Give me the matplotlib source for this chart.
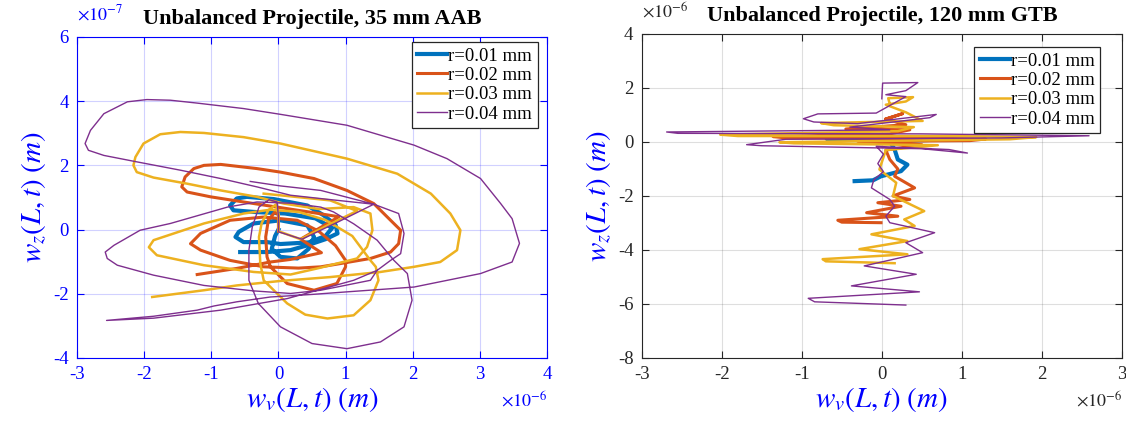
import numpy as np
import matplotlib
matplotlib.use("Agg")
import matplotlib.pyplot as plt
from matplotlib.ticker import FuncFormatter

plt.rcParams['font.family'] = ['Liberation Serif', 'DejaVu Serif']
plt.rcParams['mathtext.fontset'] = 'stix'
plt.rcParams['axes.unicode_minus'] = False

labels = ['r=0.01 mm', 'r=0.02 mm', 'r=0.03 mm', 'r=0.04 mm']

# 35 mm AAB: x in 1e-6 m, y in 1e-7 m
aab_x_01 = [-0.57, -0.17, 0.18, 0.43, 0.70, 0.88, 0.85, 0.67, 0.43, -0.07, -0.47, -0.62, -0.72, -0.67, -0.37,
            0.10, 0.55, 0.80, 0.70, 0.45, 0.03, -0.17, -0.52, -0.64, -0.59, -0.37, 0.03, 0.43, 0.53, 0.45,
            0.28, 0.03, -0.10, -0.05, 0.00]
aab_y_01 = [-0.70, -0.70, -0.64, -0.49, -0.30, -0.12, 0.15, 0.45, 0.75, 0.95, 1.02, 0.97, 0.75, 0.60, 0.55,
            0.50, 0.35, 0.05, -0.20, -0.40, -0.45, -0.39, -0.39, -0.23, -0.07, 0.19, 0.29, 0.13, -0.23, -0.60,
            -0.90, -0.85, -0.60, -0.20, 0.00]

aab_x_02 = [0.00, 0.00, -0.05, -0.15, -0.19, -0.17, -0.12, 0.13, 0.53, 0.87, 1.00, 1.00, 0.85, 0.60, 0.28,
            -0.22, -0.72, -1.16, -1.31, -1.16, -0.72, -0.22, 0.30, 0.63, 0.92, 1.37, 1.67, 1.79, 1.82, 1.67,
            1.42, 1.02, 0.53, 0.03, -0.32, -0.86, -1.11, -1.26, -1.39, -1.44, -1.36, -1.01, -0.52, -0.02, 0.45,
            0.90, 0.33, 0.64, 0.18, -0.12, -0.62, -1.21]
aab_y_02 = [-0.05, 0.45, 0.55, 0.30, -0.23, -0.85, -1.16, -1.68, -1.89, -1.68, -1.16, -0.96, -0.50, -0.05, 0.29,
            0.39, 0.29, -0.12, -0.44, -0.64, -0.96, -1.16, -1.20, -1.16, -1.06, -0.90, -0.70, -0.44, -0.02, 0.29,
            0.81, 1.22, 1.59, 1.79, 1.90, 2.03, 2.00, 1.90, 1.64, 1.33, 1.17, 1.02, 0.86, 0.70, 0.55,
            0.40, -0.30, -0.72, -0.93, -1.01, -1.21, -1.40]

aab_x_03 = [-1.88, -1.11, -0.62, 0.03, 0.77, 1.52, 2.02, 2.41, 2.66, 2.71, 2.56, 2.27, 1.77, 1.02, 0.03,
            -0.52, -1.11, -1.46, -1.76, -2.01, -2.13, -2.16, -2.11, -1.86, -1.36, -0.86, -0.32, 0.08, 0.60, 1.12,
            1.37, 1.40, 1.32, 1.17, 0.60, 0.18, -0.37, -1.11, -1.81, -1.93, -1.86, -1.11, -0.52, -0.12, 0.30,
            0.70, 1.10, 1.37, 1.45, 1.49, 1.37, 1.12, 0.73, 0.40, 0.13, -0.22, -0.27, -0.29, -0.25, -0.15,
            -0.04, 0.00, 0.00, 0.33, 0.75, 1.17, 0.77, -0.22]
aab_y_03 = [-2.10, -1.89, -1.74, -1.60, -1.48, -1.32, -1.16, -1.01, -0.64, -0.02, 0.50, 1.12, 1.74, 2.21, 2.68,
            2.88, 3.01, 3.04, 2.97, 2.68, 2.26, 2.00, 1.79, 1.62, 1.43, 1.22, 1.02, 0.81, 0.64, 0.70,
            0.50, -0.02, -0.54, -0.90, -1.20, -1.40, -1.32, -1.11, -0.80, -0.55, -0.33, 0.19, 0.50, 0.62, 0.55,
            0.30, -0.20, -0.96, -1.16, -1.58, -2.20, -2.67, -2.77, -2.65, -2.30, -1.58, -1.06, -0.23, 0.20, 0.60,
            0.78, 0.50, -0.05, -0.30, 0.15, 0.58, 0.91, 1.12]

aab_x_04 = [1.47, 1.12, 0.13, -0.86, -1.86, -2.56, -1.86, -1.21, -0.96, -0.62, -0.12, 0.50, 1.02, 2.02, 3.01,
            3.48, 3.59, 3.48, 3.31, 3.01, 2.51, 2.02, 1.02, 0.03, -0.52, -1.21, -1.61, -1.96, -2.25, -2.60,
            -2.80, -2.88, -2.83, -2.60, -2.11, -1.46, -0.86, -0.32, 0.18, 0.70, 1.42, 1.79, 1.87, 1.82, 1.67,
            1.47, 1.37, 0.63, 0.18, -0.37, -1.11, -1.86, -2.40, -2.55, -2.58, -2.45, -2.06, -1.61, -0.76, -0.32,
            0.20, 0.63, 0.82, 1.12, 1.47, 1.72, 1.92, 1.99, 1.87, 1.52, 1.02, 0.50, 0.03, -0.30, -0.44,
            -0.44, -0.39, -0.29, -0.14, -0.02, 0.00, 0.00, 0.35, 0.90, 1.42, 0.63, 0.03, -0.42]
aab_y_04 = [-1.27, -1.58, -2.15, -2.51, -2.76, -2.83, -2.70, -2.51, -2.38, -2.25, -2.10, -2.02, -1.94, -1.79, -1.37,
            -1.01, -0.43, 0.34, 0.81, 1.59, 2.21, 2.63, 3.25, 3.59, 3.77, 3.94, 4.03, 4.05, 3.98, 3.61,
            3.09, 2.68, 2.47, 2.31, 2.11, 1.85, 1.59, 1.33, 1.07, 0.95, 0.79, 0.50, -0.12, -0.75, -0.96,
            -1.27, -1.58, -1.89, -1.99, -1.91, -1.74, -1.42, -1.11, -0.90, -0.70, -0.49, -0.02, 0.19, 0.70, 0.86,
            0.82, 0.70, 0.55, 0.18, -0.33, -0.96, -1.37, -2.20, -3.03, -3.50, -3.71, -3.55, -3.03, -2.30, -1.58,
            -0.64, 0.08, 0.70, 0.93, 0.86, 0.40, -0.07, -0.30, 0.25, 0.79, 1.22, 1.36, 1.50]

# 120 mm GTB: x and y in 1e-6 m
gtb_x_01 = [0.05, -0.30, -0.69, 0.64, 0.10, 0.16, 0.20, 0.32, 0.24, -0.01, -0.11, -0.34]
gtb_y_01 = [0.20, 0.18, 0.12, 0.08, 0.02, -0.28, -0.65, -0.84, -1.08, -1.27, -1.42, -1.45]

gtb_x_02 = [0.05, 0.26, 0.05, 0.30, -0.45, 0.35, 0.10, -1.36, -1.20, 0.60, 1.30, 1.10, -0.30, 0.50, 0.05,
            0.10, 0.20, 0.16, 0.41, 0.14, 0.35, -0.05, 0.24, -0.19, 0.20, -0.55, -0.50, -0.01]
gtb_y_02 = [0.85, 1.05, 0.85, 0.64, 0.48, 0.45, 0.30, 0.20, 0.15, 0.14, 0.11, 0.05, 0.02, -0.10, -0.30,
            -0.65, -1.00, -1.27, -1.70, -2.00, -2.13, -2.25, -2.38, -2.62, -2.75, -2.90, -2.97, -2.99]

gtb_x_03 = [0.10, 0.08, 0.39, 0.30, 0.05, 0.30, 0.51, -0.76, -0.60, 0.40, 0.20, -2.02, -1.80, 0.80, 1.93,
            1.60, -1.28, -1.10, 0.70, 0.05, -0.03, 0.18, 0.14, 0.53, 0.28, 0.41, -0.13, 0.32, -0.28, 0.32,
            -0.74, -0.70, 0.16]
gtb_y_03 = [1.40, 1.62, 1.66, 1.50, 1.38, 1.10, 0.78, 0.70, 0.62, 0.55, 0.40, 0.27, 0.22, 0.22, 0.18,
            0.10, -0.01, -0.05, -0.12, -0.30, -1.02, -1.51, -2.00, -2.56, -2.87, -3.11, -3.42, -3.67, -3.97, -4.16,
            -4.34, -4.42, -4.49]

gtb_x_04 = [0.00, 0.01, 0.45, 0.30, 0.05, 0.30, -0.07, -0.80, -0.98, -0.85, -0.30, 0.68, 0.60, -0.40, 0.10,
            -2.69, -2.55, 0.50, 2.59, 1.50, -1.20, -1.69, -1.50, 0.50, 1.07, 0.84, 0.20, -0.07, 0.02, -0.05,
            0.02, -0.10, -0.13, 0.10, 0.16, 0.05, 0.10, 0.66, 0.30, 0.51, -0.22, 0.43, -0.38, 0.47, -0.92,
            -0.84, 0.30]
gtb_y_04 = [1.60, 2.18, 2.20, 1.90, 1.75, 1.68, 1.07, 1.04, 0.86, 0.74, 0.68, 1.02, 0.90, 0.55, 0.45,
            0.37, 0.32, 0.30, 0.23, 0.15, 0.10, -0.10, -0.14, -0.25, -0.41, -0.28, -0.20, -0.16, -0.45, -0.80,
            -1.10, -1.40, -1.70, -2.13, -2.38, -2.75, -2.99, -3.36, -3.73, -4.10, -4.59, -4.90, -5.33, -5.55, -5.79,
            -5.92, -6.04]

colors = ['#0072BD', '#D95319', '#EDB120', '#7E2F8E']
widths = [3.0, 2.2, 1.8, 1.0]

aab_xs = [aab_x_01, aab_x_02, aab_x_03, aab_x_04]
aab_ys = [aab_y_01, aab_y_02, aab_y_03, aab_y_04]
gtb_xs = [gtb_x_01, gtb_x_02, gtb_x_03, gtb_x_04]
gtb_ys = [gtb_y_01, gtb_y_02, gtb_y_03, gtb_y_04]

fig = plt.figure(figsize=(11.26, 4.24), dpi=100)
ax1 = fig.add_axes([0.0684, 0.1557, 0.4174, 0.7571])
ax2 = fig.add_axes([0.5700, 0.1557, 0.4263, 0.7642])


def scaled(scale):
    return FuncFormatter(lambda v, pos: '%g' % round(v / scale, 6))


def style_axes(ax, axis_color, grid_color, grid_alpha, xexp, yexp):
    for s in ax.spines.values():
        s.set_color(axis_color)
        s.set_linewidth(0.8)
    ax.tick_params(direction='in', top=True, right=True, length=5, width=0.8,
                   colors=axis_color, labelsize=13.5, pad=6)
    ax.grid(True, color=grid_color, alpha=grid_alpha, linewidth=0.8)
    ax.set_axisbelow(True)
    ax.xaxis.set_major_formatter(scaled(10.0 ** xexp))
    ax.yaxis.set_major_formatter(scaled(10.0 ** yexp))
    ax.text(0.0, 1.04, r'$\times10^{%d}$' % yexp, transform=ax.transAxes, color=axis_color,
            fontsize=13, ha='left', va='bottom')
    ax.text(1.0, -0.1, r'$\times10^{%d}$' % xexp, transform=ax.transAxes, color=axis_color,
            fontsize=13, ha='right', va='top')


def add_legend(ax, anchor):
    leg = ax.legend(loc='upper right', bbox_to_anchor=anchor, fontsize=13.5, fancybox=False,
                    edgecolor='#262626', handlelength=1.6, handletextpad=0.05, borderpad=0.3,
                    labelspacing=0.12, borderaxespad=0, framealpha=1)
    leg.get_frame().set_linewidth(0.9)


# left panel
for xs, ys, c, w, lab in zip(aab_xs, aab_ys, colors, widths, labels):
    ax1.plot(np.array(xs) * 1e-6, np.array(ys) * 1e-7, color=c, lw=w, label=lab,
             solid_joinstyle='round')
ax1.set_xlim(-3e-6, 4e-6)
ax1.set_ylim(-4e-7, 6e-7)
ax1.set_xticks(np.arange(-3, 5) * 1e-6)
ax1.set_yticks(np.arange(-4, 7, 2) * 1e-7)
style_axes(ax1, '#0000FF', '#0000FF', 0.18, -6, -7)
ax1.set_title('Unbalanced Projectile, 35 mm AAB', fontsize=16, fontweight='bold', pad=9)
ax1.set_xlabel(r'$w_v(L,t)\ (m)$', color='#0000FF', fontsize=21, labelpad=1)
ax1.set_ylabel(r'$w_z(L,t)\ (m)$', color='#0000FF', fontsize=21, labelpad=3)
add_legend(ax1, (0.98, 0.985))

# right panel
for xs, ys, c, w, lab in zip(gtb_xs, gtb_ys, colors, widths, labels):
    ax2.plot(np.array(xs) * 1e-6, np.array(ys) * 1e-6, color=c, lw=w, label=lab,
             solid_joinstyle='round')
ax2.set_xlim(-3e-6, 3e-6)
ax2.set_ylim(-8e-6, 4e-6)
ax2.set_xticks(np.arange(-3, 4) * 1e-6)
ax2.set_yticks(np.arange(-8, 5, 2) * 1e-6)
style_axes(ax2, '#262626', '#262626', 0.15, -6, -6)
ax2.set_title('Unbalanced Projectile, 120 mm GTB', fontsize=16, fontweight='bold', pad=9)
ax2.set_xlabel(r'$w_v(L,t)\ (m)$', color='#0000FF', fontsize=21, labelpad=1)
ax2.set_ylabel(r'$w_z(L,t)\ (m)$', color='#0000FF', fontsize=21, labelpad=3)
add_legend(ax2, (0.955, 0.96))

fig.savefig('out.png', dpi=100)
